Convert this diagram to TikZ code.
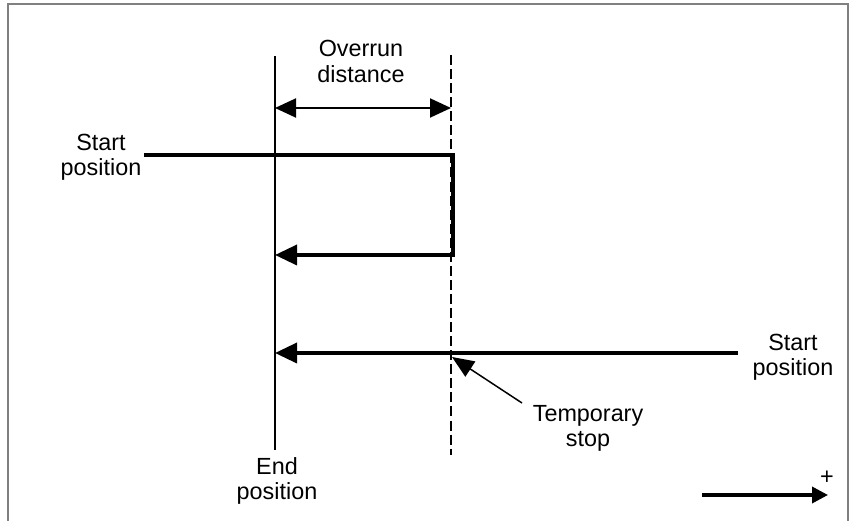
\documentclass[tikz,border=0pt]{standalone}
\usepackage{fontspec}
\setmainfont{Liberation Sans}
\usetikzlibrary{positioning,arrows.meta,calc}
\definecolor{Frame}{RGB}{128,128,128}

\begin{document}
\begin{tikzpicture}[
    txt/.style={font=\fontsize{13.3}{14.4}\selectfont,align=center,inner sep=0pt},
    guide/.style={line width=0.85pt},
    stopline/.style={line width=0.75pt,dash pattern=on 5.7pt off 2.3pt},
    travel/.style={line width=2pt,line join=miter,-{Triangle[length=0.44cm,width=0.40cm]}},
    span/.style={line width=1.1pt,{Triangle[length=0.42cm,width=0.38cm]}-{Triangle[length=0.42cm,width=0.38cm]}},
    pointer/.style={line width=0.85pt,-{Triangle[length=0.44cm,width=0.36cm]}}
]
\useasboundingbox (0,0) rectangle (17,10.42);

% frame
\draw[Frame,line width=1pt] (0.16,0) -- (0.16,10.34) -- (16.96,10.34) -- (16.96,0);

% end position and temporary stop lines
\coordinate (end-top) at (5.5,9.3);
\coordinate (end-bot) at (5.5,1.42);
\coordinate (stop-top) at (9.02,9.32);
\coordinate (stop-bot) at (9.02,1.32);
\draw[guide] (end-top) -- (end-bot);
\draw[stopline] (stop-top) -- (stop-bot);

% overrun distance
\node[txt] (overrun) at (7.22,9.19) {Overrun\\distance};
\coordinate (over-l) at (5.5,8.26);
\coordinate (over-r) at (9.02,8.26);
\draw[span] (over-l) -- (over-r);

% first move (overrun, then back)
\node[txt] (start1) at (2.02,7.27) {Start\\position};
\coordinate (s1) at (2.88,7.32);
\coordinate (c1) at (9.06,7.32);
\coordinate (c2) at (9.06,5.32);
\coordinate (e1) at (5.5,5.32);
\draw[travel] (s1) -- (c1) -- (c2) -- (e1);

% second move (from the plus side)
\node[txt] (start2) at (15.86,3.27) {Start\\position};
\coordinate (s2) at (14.76,3.36);
\coordinate (e2) at (5.5,3.36);
\draw[travel] (s2) -- (e2);

% temporary stop
\node[txt] (tmpstop) at (11.76,1.85) {Temporary\\stop};
\coordinate (tmp-tail) at (10.44,2.36);
\coordinate (tmp-tip) at (9.04,3.28);
\draw[pointer] (tmp-tail) -- (tmp-tip);

% end position
\node[txt] (endpos) at (5.54,0.8) {End\\position};

% plus direction
\coordinate (dir-l) at (14.04,0.52);
\coordinate (dir-r) at (16.56,0.52);
\draw[line width=2pt,-{Triangle[length=0.32cm,width=0.32cm]}] (dir-l) -- (dir-r);
\node[txt] (plus) at (16.54,0.86) {+};

\end{tikzpicture}
\end{document}
